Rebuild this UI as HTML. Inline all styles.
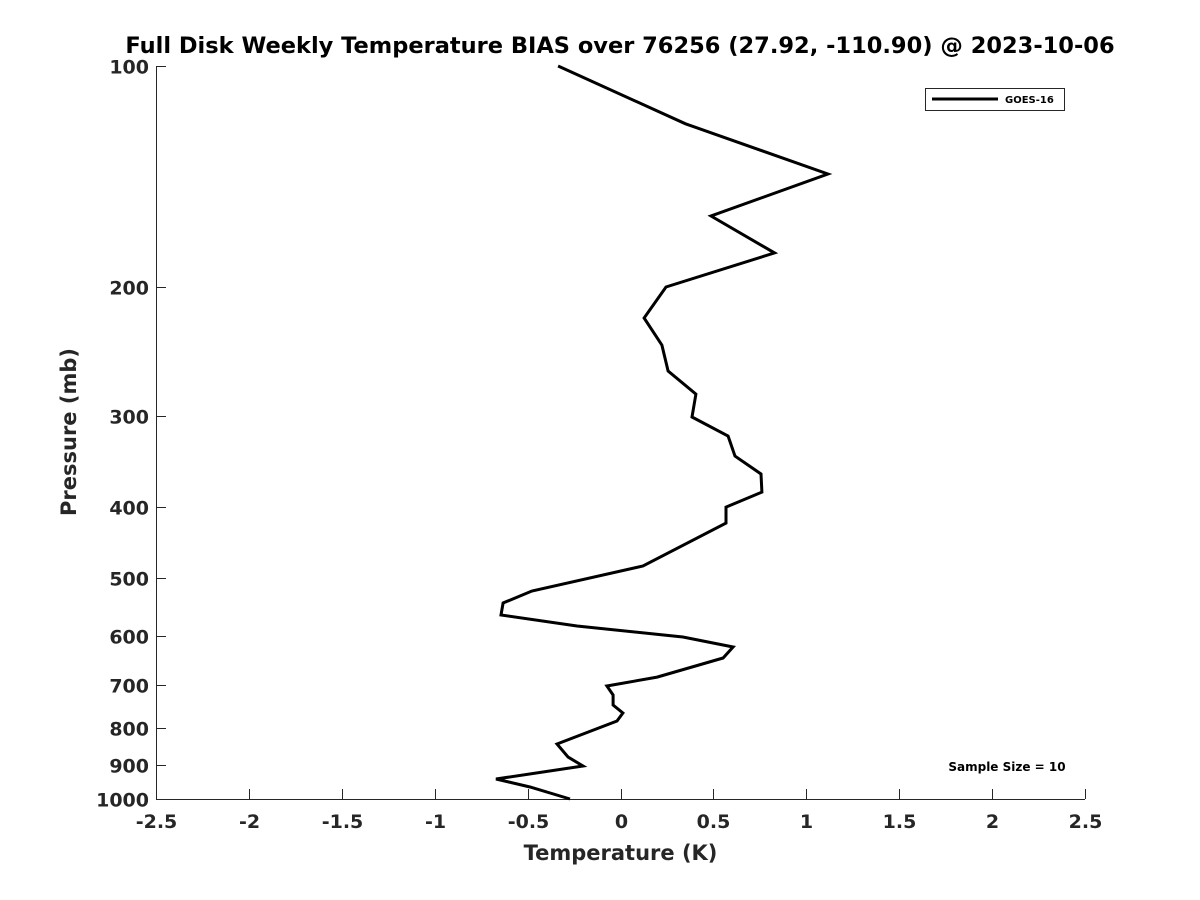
<!DOCTYPE html>
<html><head><meta charset="utf-8"><style>
body{margin:0;background:#fff;}
svg{display:block;font-family:"DejaVu Sans","Liberation Sans",sans-serif;font-weight:bold;}
</style></head><body>
<svg id="chart" width="1200" height="900" viewBox="0 0 1200 900">
<text x="620" y="53" text-anchor="middle" font-size="22.5" fill="#000">Full Disk Weekly Temperature BIAS over 76256 (27.92, -110.90) @ 2023-10-06</text>
<g id="axes"></g>
<path id="line" fill="none" stroke="#000" stroke-width="3" stroke-linejoin="miter"/>
<g>
<rect x="925.5" y="88.5" width="139" height="22" fill="#fff" stroke="#262626" stroke-width="1"/>
<line x1="932" y1="99" x2="998" y2="99" stroke="#000" stroke-width="3"/>
<text x="1005" y="103" font-size="10" fill="#000">GOES-16</text>
</g>
<text x="1007" y="771" text-anchor="middle" font-size="12" fill="#000">Sample Size = 10</text>
<text x="620.5" y="860" text-anchor="middle" font-size="21" fill="#262626">Temperature (K)</text>
<text transform="translate(76,432) rotate(-90)" text-anchor="middle" font-size="21" fill="#262626">Pressure (mb)</text>
</svg>
<script>
const pressures=[100,119.9,140.4,160.2,179.9,200.2,220.7,240.3,260.7,280.3,301.2,319.8,340.6,360.3,381.3,399.7,420.3,481,520.2,540.3,561,580.7,601.2,620.4,642.2,681.8,701.3,721.4,744.4,763.3,782.6,841.4,876.6,901.6,939.1,962.9,1000];
const temps=[-0.336,0.35,1.116,0.487,0.829,0.245,0.127,0.223,0.256,0.406,0.385,0.579,0.616,0.756,0.761,0.568,0.568,0.121,-0.477,-0.632,-0.643,-0.234,0.336,0.606,0.552,0.197,-0.073,-0.04,-0.04,0.013,-0.019,-0.342,-0.282,-0.202,-0.67,-0.487,-0.272];
const xTicks=[-2.5,-2,-1.5,-1,-0.5,0,0.5,1,1.5,2,2.5];
const yTicks=[100,200,300,400,500,600,700,800,900,1000];
const L=156,R=1085,T=66,B=799;
function xs(v){return L+(v+2.5)/5*(R-L);}
function ys(p){return T+Math.log10(p/100)*(B-T);}
const ns='http://www.w3.org/2000/svg';
const ax=document.getElementById('axes');
function mk(tag,attrs){const e=document.createElementNS(ns,tag);for(const k in attrs)e.setAttribute(k,attrs[k]);ax.appendChild(e);return e;}
let e=mk('line',{x1:L,y1:B+0.5,x2:R,y2:B+0.5,stroke:'#262626','stroke-width':1});


e=mk('line',{x1:L+0.5,y1:T,x2:L+0.5,y2:B,stroke:'#262626','stroke-width':1});


xTicks.forEach(v=>{const x=Math.round(xs(v))+0.5;
 let t=mk('line',{x1:x,y1:B,x2:x,y2:B-10,stroke:'#262626','stroke-width':1});
 
 
 let l=mk('text',{x:x,y:B+29,'text-anchor':'middle','font-size':19,fill:'#262626'});
 l.textContent=String(v);
 
 
});
yTicks.forEach(p=>{const y=Math.round(ys(p))+0.5;
 let t=mk('line',{x1:L,y1:y,x2:L+10,y2:y,stroke:'#262626','stroke-width':1});
 
 
 let l=mk('text',{x:L-7,y:y+7,'text-anchor':'end','font-size':19,fill:'#262626'});
 l.textContent=String(p);
 
 
});
document.getElementById('line').setAttribute('d',temps.map((t,i)=>(i?'L':'M')+xs(t).toFixed(1)+','+ys(pressures[i]).toFixed(1)).join(' '));
</script>
</body></html>
